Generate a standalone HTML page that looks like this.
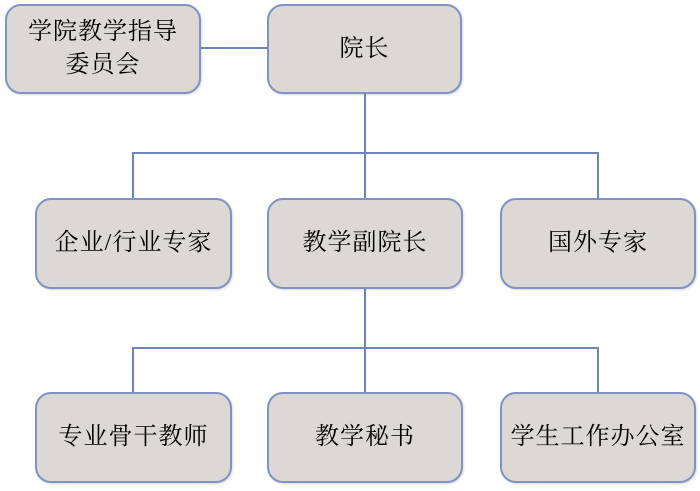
<!DOCTYPE html>
<html><head><meta charset="utf-8"><style>
body{margin:0;width:700px;height:491px;background:#fff;position:relative;overflow:hidden;font-family:"Liberation Serif","Noto Serif CJK SC","Noto Sans CJK SC",serif;}
.b{position:absolute;width:192px;height:86px;background:#dcd8d3;border:2px solid #7f93c9;border-radius:16px;box-sizing:border-box;display:flex;align-items:center;justify-content:center;text-align:center;font-size:24px;letter-spacing:1px;line-height:33px;color:#000;box-shadow:1px 1px 2px rgba(0,0,0,.15);}
.l{position:absolute;background:#6d86c0;}
</style></head><body>
<div class="l" style="left:200px;top:47px;width:68px;height:2px"></div>
<div class="l" style="left:364px;top:92px;width:2px;height:108px"></div>
<div class="l" style="left:132px;top:152px;width:467px;height:2px"></div>
<div class="l" style="left:132px;top:152px;width:2px;height:48px"></div>
<div class="l" style="left:597px;top:152px;width:2px;height:48px"></div>
<div class="l" style="left:364px;top:287px;width:2px;height:107px"></div>
<div class="l" style="left:132px;top:347px;width:467px;height:2px"></div>
<div class="l" style="left:132px;top:347px;width:2px;height:47px"></div>
<div class="l" style="left:597px;top:347px;width:2px;height:47px"></div>
<div class="b" style="left:5px;top:4px;width:196px;height:90px">学院教学指导<br>委员会</div>
<div class="b" style="left:267px;top:4px;width:195px;height:90px">院长</div>
<div class="b" style="left:35px;top:198px;width:197px;height:91px">企业/行业专家</div>
<div class="b" style="left:267px;top:198px;width:196px;height:91px">教学副院长</div>
<div class="b" style="left:500px;top:198px;width:196px;height:91px">国外专家</div>
<div class="b" style="left:35px;top:392px;width:197px;height:91px">专业骨干教师</div>
<div class="b" style="left:267px;top:392px;width:196px;height:91px">教学秘书</div>
<div class="b" style="left:500px;top:392px;width:196px;height:91px">学生工作办公室</div>
</body></html>
